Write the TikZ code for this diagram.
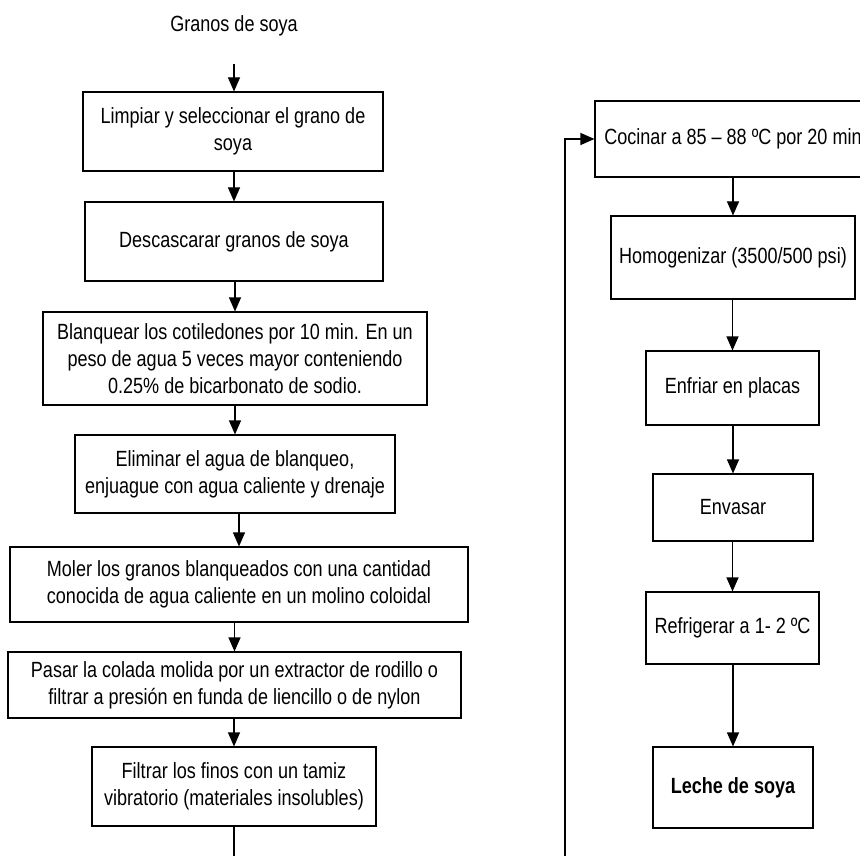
\documentclass[tikz,border=0pt]{standalone}
\usepackage{fontspec}
\setmainfont{Liberation Sans}[FakeStretch=0.82]
\usetikzlibrary{arrows.meta}

\begin{document}
\begin{tikzpicture}[x=1pt, y=-1pt,
		line width=1.1pt,
		flow/.style={-{Triangle[length=14pt, width=12pt]}},
		stepbox/.style={draw, align=center, inner sep=4pt, font=\fontsize{22}{27}\selectfont},
		label/.style={align=center, font=\fontsize{22}{27}\selectfont}]
		\useasboundingbox (0,0) rectangle (860,856);
		\clip (0,0) rectangle (860,856);
		
		% Coordinates
		\coordinate (start) at (234, 64);
		\coordinate (down) at (234, 900);
		\coordinate (across) at (565, 900);
		\coordinate (up) at (565, 139);
		
		% Left column
		\node[label] (granos) at (234, 26) {Granos de soya};
		\node[stepbox, minimum width=300, minimum height=79] (limpiar) at (233, 131.5) {Limpiar y seleccionar el grano de\\soya};
		\node[stepbox, minimum width=298, minimum height=79] (descascarar) at (234, 241.5) {Descascarar granos de soya};
		\node[stepbox, minimum width=384, minimum height=93] (blanquear) at (235, 358.5) {Blanquear los cotiledones por 10 min. En un\\peso de agua 5 veces mayor conteniendo\\0.25\% de bicarbonato de sodio.};
		\node[stepbox, minimum width=320, minimum height=78] (eliminar) at (235, 474) {Eliminar el agua de blanqueo,\\enjuague con agua caliente y drenaje};
		\node[stepbox, minimum width=458, minimum height=75] (moler) at (239, 584.5) {Moler los granos blanqueados con una cantidad\\conocida de agua caliente en un molino coloidal};
		\node[stepbox, minimum width=453, minimum height=66] (pasar) at (234.5, 685) {Pasar la colada molida por un extractor de rodillo o\\filtrar a presión en funda de liencillo o de nylon};
		\node[stepbox, minimum width=284, minimum height=79] (filtrar) at (234, 786.5) {Filtrar los finos con un tamiz\\vibratorio (materiales insolubles)};
		
		% Right column
		\node[stepbox, minimum width=276, minimum height=76] (cocinar) at (733, 139) {Cocinar a 85 – 88 ºC por 20 min};
		\node[stepbox, minimum width=244, minimum height=83] (homogenizar) at (733, 257.5) {Homogenizar (3500/500 psi)};
		\node[stepbox, minimum width=173, minimum height=74] (enfriar) at (732.5, 388) {Enfriar en placas};
		\node[stepbox, minimum width=160, minimum height=67] (envasar) at (733, 507.5) {Envasar};
		\node[stepbox, minimum width=173, minimum height=72] (refrigerar) at (732.5, 628) {Refrigerar a 1- 2 ºC};
		\node[stepbox, minimum width=160, minimum height=81, font=\fontsize{22}{27}\selectfont\bfseries] (leche) at (733, 787.5) {Leche de soya};
		
		% Arrows
		\draw[flow] (start) -- (start |- limpiar.north);
		\foreach \a/\b in {limpiar/descascarar, descascarar/blanquear, blanquear/eliminar, eliminar/moler, moler/pasar, pasar/filtrar, cocinar/homogenizar, homogenizar/enfriar, enfriar/envasar, envasar/refrigerar, refrigerar/leche}
			\draw[flow] (\a.south -| \b.north) -- (\b.north);
		
		% Loop to the right column
		\draw[flow] (filtrar.south) -- (down) -- (across) -- (up) -- (cocinar.west);
	\end{tikzpicture}
\end{document}
